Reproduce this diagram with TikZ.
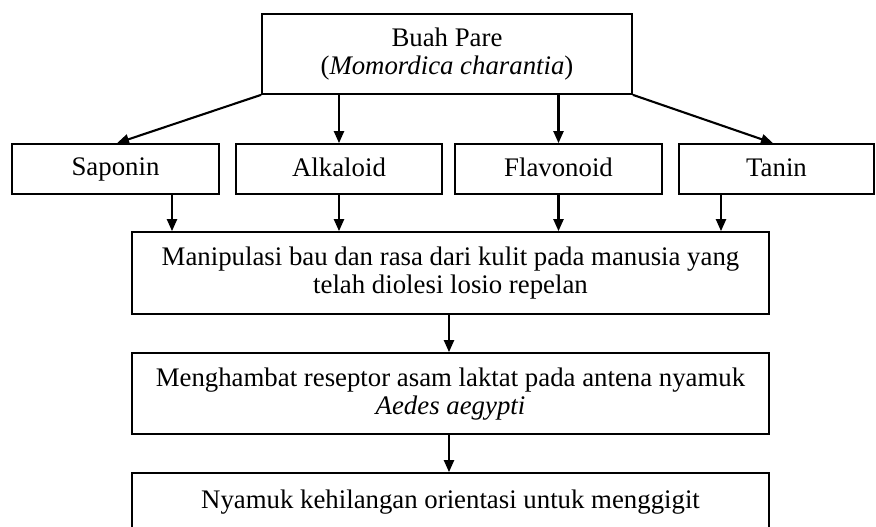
\documentclass[tikz,border=0pt]{standalone}
\usepackage{fontspec}
\setmainfont{Liberation Serif}
\usetikzlibrary{arrows.meta}
\newcommand{\bstrut}{\rule[-4.5pt]{0pt}{23.5pt}}
\newcommand{\mstrut}{\rule[-6.5pt]{0pt}{21.5pt}}
\begin{document}
\begin{tikzpicture}[x=1pt,y=1pt,
  box/.style={draw, line width=1.7pt, inner sep=0pt, align=center,
    font=\fontsize{26.8}{28}\selectfont},
  arr/.style={line width=2.1pt, -{Triangle[length=12pt,width=10pt]}}]
\useasboundingbox (0,0) rectangle (876,527);
\clip (0,0) rectangle (876,527);
\node[box, minimum width=370pt, minimum height=80pt] (top) at (447,473)
  {\bstrut Buah Pare\\\bstrut(\textit{Momordica charantia})};
\node[box, minimum width=207pt, minimum height=50pt] (sap) at (115.5,358) {\bstrut Saponin};
\node[box, minimum width=206pt, minimum height=50pt] (alk) at (339,358) {\bstrut Alkaloid};
\node[box, minimum width=207pt, minimum height=50pt] (fla) at (558.5,358) {\bstrut Flavonoid};
\node[box, minimum width=195pt, minimum height=50pt] (tan) at (776.5,358) {\bstrut Tanin};
\node[box, minimum width=637pt, minimum height=82pt] (man) at (450.5,254)
  {\mstrut Manipulasi bau dan rasa dari kulit pada manusia yang\\\mstrut telah diolesi losio repelan};
\node[box, minimum width=637pt, minimum height=81pt] (men) at (450.5,133.5)
  {\bstrut Menghambat reseptor asam laktat pada antena nyamuk\\\bstrut\textit{Aedes aegypti}};
\node[box, minimum width=637pt, minimum height=58pt] (nya) at (450.5,25)
  {\bstrut Nyamuk kehilangan orientasi untuk menggigit};
\draw[arr] (top.south west) -- ([xshift=1.5pt]sap.north);
\draw[arr] (top.south -| alk.north) -- (alk.north);
\draw[arr] (top.south -| fla.north) -- (fla.north);
\draw[arr] (top.south east) -- ([xshift=-3.5pt]tan.north);
\coordinate (s1) at ([xshift=56.5pt]sap.south);
\coordinate (s4) at ([xshift=-55.5pt]tan.south);
\draw[arr] (s1) -- (s1 |- man.north);
\draw[arr] (alk.south) -- (alk.south |- man.north);
\draw[arr] (fla.south) -- (fla.south |- man.north);
\draw[arr] (s4) -- (s4 |- man.north);
\coordinate (m1) at ([xshift=-1.5pt]man.south);
\draw[arr] (m1) -- (m1 |- men.north);
\coordinate (m2) at ([xshift=-1.5pt]men.south);
\draw[arr] (m2) -- (m2 |- nya.north);
\end{tikzpicture}
\end{document}
